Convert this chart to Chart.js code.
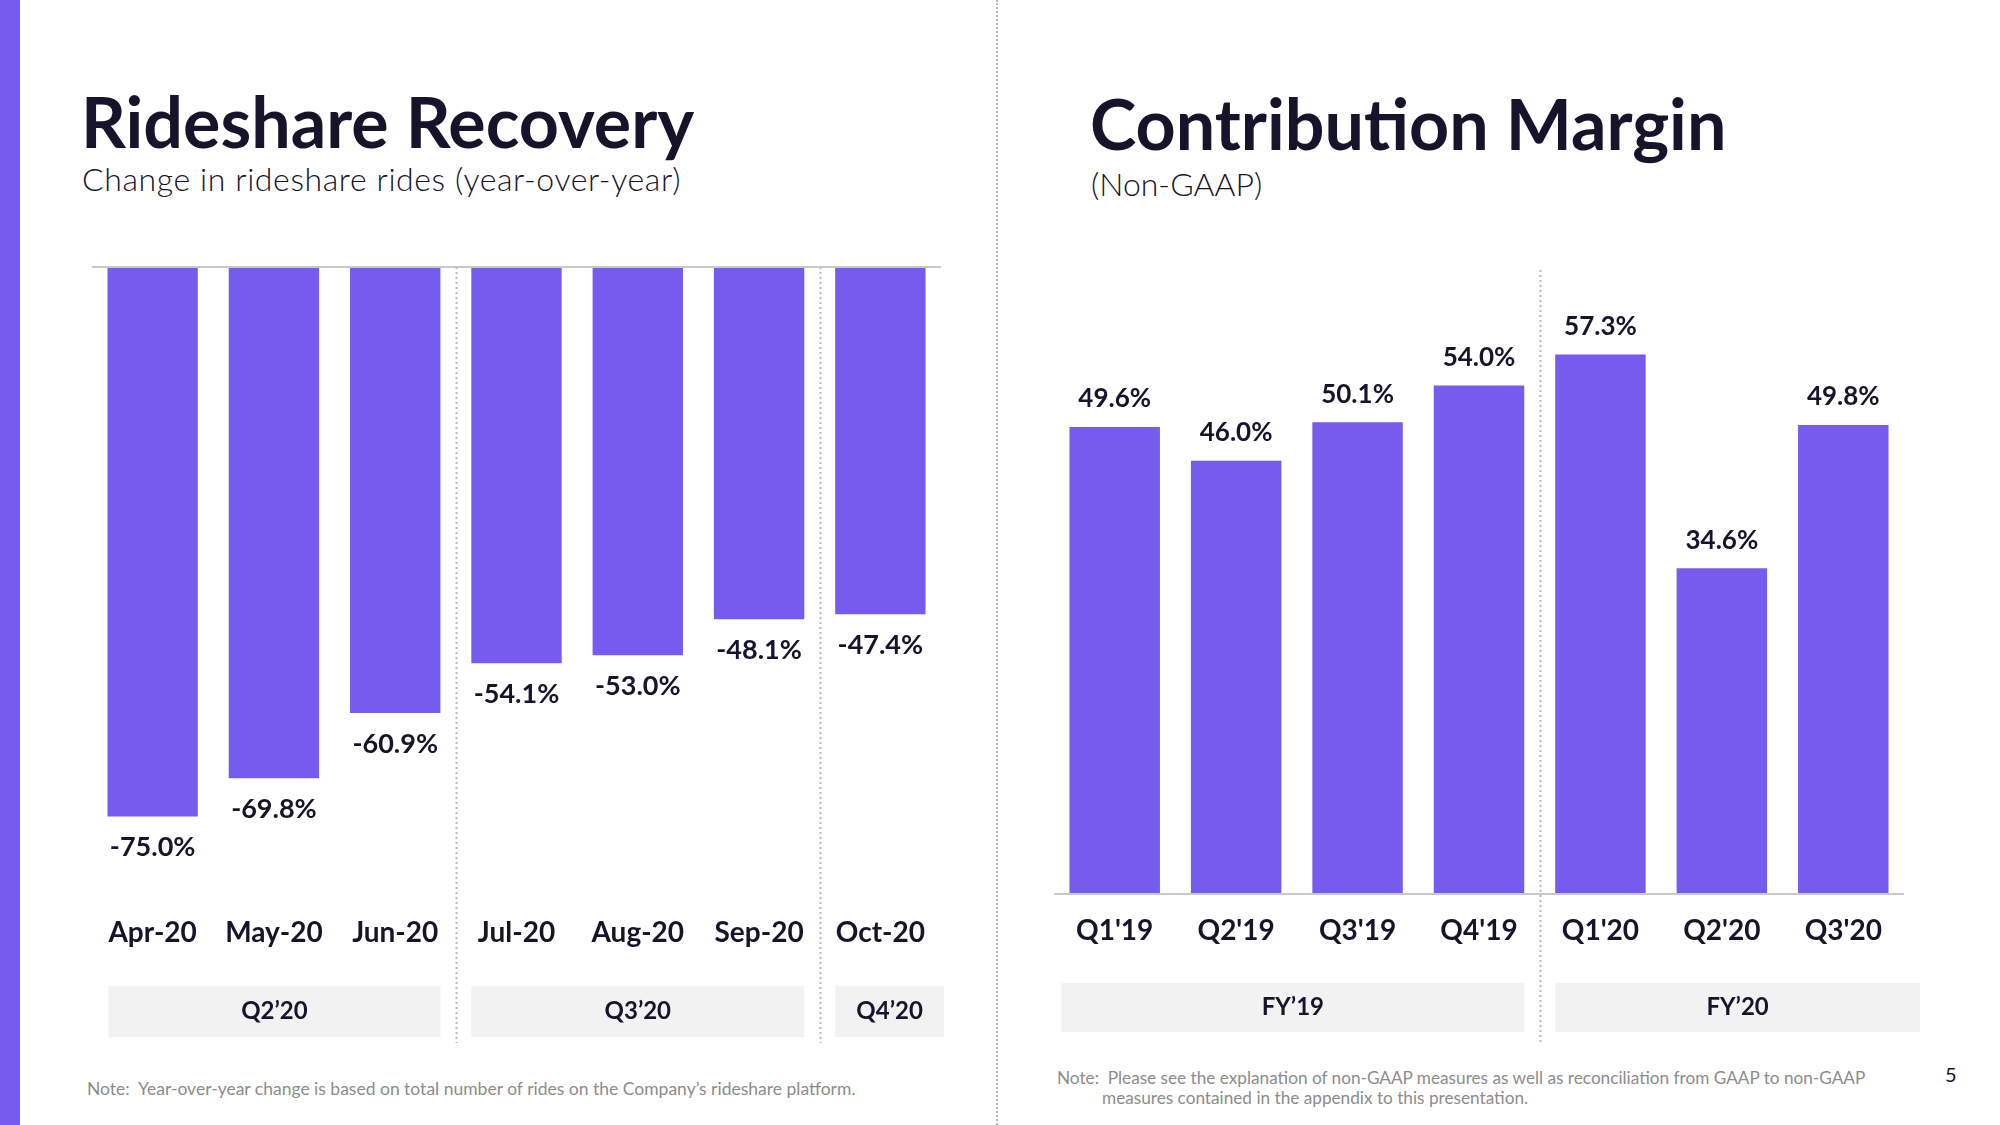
<!DOCTYPE html>
<html><head><meta charset="utf-8">
<script src="https://cdn.jsdelivr.net/npm/chart.js@4/dist/chart.umd.min.js"></script>
<style>
html,body{margin:0;padding:0;background:#fff;}
body{width:2000px;height:1125px;position:relative;overflow:hidden;font-family:Lato,sans-serif;color:#16142b;}
.strip{position:absolute;left:0;top:0;width:20px;height:1125px;background:#765bef;}
.divider{position:absolute;left:996px;top:0;height:1125px;border-left:2px dotted #b8b8b8;}
.title{position:absolute;font-weight:700;font-size:70px;line-height:1;white-space:nowrap;}
.sub{position:absolute;font-weight:300;font-size:32px;line-height:1;white-space:nowrap;}
.note{position:absolute;font-size:17.5px;color:#8c8c8c;line-height:20px;white-space:nowrap;}
.pg{position:absolute;font-size:20px;line-height:1;}
canvas{position:absolute;top:0;}
</style></head>
<body>
<div class="strip"></div>
<div class="divider"></div>
<div class="title" style="left:81px;top:86px;">Rideshare Recovery</div>
<div class="sub" style="left:82px;top:163px;letter-spacing:0.6px;">Change in rideshare rides (year-over-year)</div>
<div class="title" style="left:1090px;top:88px;">Contribution Margin</div>
<div class="sub" style="left:1091px;top:168px;">(Non-GAAP)</div>
<div class="note" style="left:87px;top:1079px;">Note:&nbsp; Year-over-year change is based on total number of rides on the Company’s rideshare platform.</div>
<div class="note" style="left:1057px;top:1068px;font-size:17.2px;">Note:&nbsp; Please see the explanation of non-GAAP measures as well as reconciliation from GAAP to non-GAAP<br><span style="padding-left:45px">measures contained in the appendix to this presentation.</span></div>
<div class="pg" style="left:1945px;top:1064px;">5</div>
<canvas id="c1" width="1000" height="1125" style="left:0;"></canvas>
<canvas id="c2" width="1000" height="1125" style="left:1000px;"></canvas>
<script>
// ---- data ----
const months = ['Apr-20','May-20','Jun-20','Jul-20','Aug-20','Sep-20','Oct-20'];
const rideChange = [-75.0,-69.8,-60.9,-54.1,-53.0,-48.1,-47.4];
const monthGroups = ['Q2’20','Q3’20','Q4’20'];
const monthGroupSizes = [3,3,1];

const quarters = ["Q1'19","Q2'19","Q3'19","Q4'19","Q1'20","Q2'20","Q3'20"];
const contribMargin = [49.6,46.0,50.1,54.0,57.3,34.6,49.8];
const yearGroups = ['FY’19','FY’20'];
const yearGroupSizes = [4,3];

// ---- styles ----
const PURPLE = '#765bef';
const DARK = '#16142b';
const FONT = 'Lato, sans-serif';

const deco = {
  id:'deco',
  beforeDatasetsDraw(chart, args, o){
    const {ctx, chartArea:ca, scales:{x}} = chart;
    const bw = chart.getDatasetMeta(0).data[0].width;
    let i = 0;
    ctx.save();
    o.groups.forEach((g, gi) => {
      const first = i, last = i + o.sizes[gi] - 1; i += o.sizes[gi];
      const x0 = x.getPixelForValue(first) - bw/2 + (gi === 0 ? o.firstShift : 0);
      let x1 = x.getPixelForValue(last) + bw/2;
      if (gi === o.groups.length - 1) x1 = ca.right + o.lastExt;
      ctx.fillStyle = '#f2f2f2';
      ctx.fillRect(x0, o.boxTop, x1 - x0, o.boxH);
      ctx.fillStyle = DARK;
      ctx.font = 'bold 24px ' + FONT;
      ctx.textAlign = 'center'; ctx.textBaseline = 'middle';
      ctx.fillText(g, (x0 + x1)/2, o.boxTop + o.boxH/2);
      if (gi < o.groups.length - 1) {
        const sx = Math.round((x.getPixelForValue(last) + x.getPixelForValue(last + 1))/2) + 0.5;
        ctx.strokeStyle = '#b8b8b8'; ctx.lineWidth = 2; ctx.setLineDash([2,3]);
        ctx.beginPath(); ctx.moveTo(sx, o.sepTop); ctx.lineTo(sx, o.sepBottom); ctx.stroke();
        ctx.setLineDash([]);
      }
    });
    ctx.restore();
  },
  afterDatasetsDraw(chart, args, o){
    const {ctx, chartArea:ca, scales:{y}} = chart;
    ctx.save();
    const zy = y.getPixelForValue(0);
    ctx.strokeStyle = '#c8c8c8'; ctx.lineWidth = 2;
    ctx.beginPath(); ctx.moveTo(ca.left, zy); ctx.lineTo(ca.right, zy); ctx.stroke();
    const ds = chart.data.datasets[0].data;
    ctx.fillStyle = DARK;
    ctx.font = 'bold ' + o.labelSize + 'px ' + FONT;
    ctx.textAlign = 'center'; ctx.textBaseline = 'middle';
    chart.getDatasetMeta(0).data.forEach((bar, k) => {
      const v = ds[k];
      const ly = v < 0 ? bar.y + o.labelGap : bar.y - o.labelGap;
      ctx.fillText(v.toFixed(1) + '%', bar.x, ly);
    });
    ctx.restore();
  }
};

function makeChart(id, labels, values, yMin, yMax, pad, xHeight, tickPad, decoOpts){
  return new Chart(document.getElementById(id), {
    type:'bar',
    data:{ labels, datasets:[{ data: values, backgroundColor: PURPLE, borderWidth:0,
      categoryPercentage:1, barPercentage:0.745 }]},
    options:{
      responsive:false, animation:false, devicePixelRatio:1,
      layout:{ padding: pad },
      plugins:{ legend:{display:false}, tooltip:{enabled:false}, deco: decoOpts },
      scales:{
        y:{ display:false, min:yMin, max:yMax },
        x:{ grid:{display:false, drawTicks:false}, border:{display:false},
            ticks:{ color:DARK, font:{family:FONT, weight:'bold', size:28}, padding:tickPad, maxRotation:0, autoSkip:false },
            afterFit(s){ s.height = xHeight; } }
      }
    },
    plugins:[deco]
  });
}

makeChart('c1', months, rideChange, -80, 0,
  {left:92, right:59, top:267, bottom:0}, 272, 63,
  {groups:monthGroups, sizes:monthGroupSizes, boxTop:986, boxH:51, firstShift:1, lastExt:3, sepTop:267, sepBottom:1043, labelGap:31, labelSize:27});

makeChart('c2', quarters, contribMargin, 0, 60,
  {left:54, right:96, top:329, bottom:0}, 231, 20,
  {groups:yearGroups, sizes:yearGroupSizes, boxTop:983, boxH:49, firstShift:-8, lastExt:16, sepTop:270, sepBottom:1043, labelGap:28, labelSize:26});
</script>
</body></html>
